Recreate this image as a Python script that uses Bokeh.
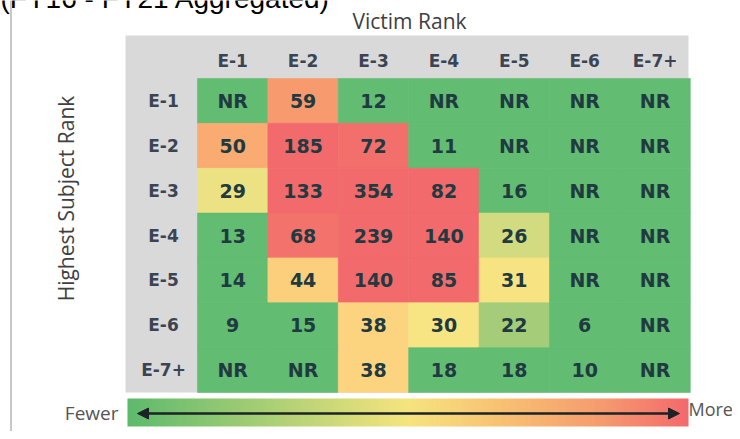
import numpy as np
from bokeh.plotting import figure
from bokeh.models import ColumnDataSource, Range1d, LinearColorMapper, Arrow, NormalHead, Span
from bokeh.core.properties import value
from bokeh.embed import file_html
from bokeh.resources import INLINE

# ---------------- data ----------------
victim_ranks = ["E-1", "E-2", "E-3", "E-4", "E-5", "E-6", "E-7+"]
subject_ranks = ["E-1", "E-2", "E-3", "E-4", "E-5", "E-6", "E-7+"]
NR = None
counts_e1 = [NR, 59, 12, NR, NR, NR, NR]
counts_e2 = [50, 185, 72, 11, NR, NR, NR]
counts_e3 = [29, 133, 354, 82, 16, NR, NR]
counts_e4 = [13, 68, 239, 140, 26, NR, NR]
counts_e5 = [14, 44, 140, 85, 31, NR, NR]
counts_e6 = [9, 15, 38, 30, 22, 6, NR]
counts_e7 = [NR, NR, 38, 18, 18, 10, NR]
count_rows = [counts_e1, counts_e2, counts_e3, counts_e4, counts_e5, counts_e6, counts_e7]
title_text = "(FY16 - FY21 Aggregated)"
x_title = "Victim Rank"
y_title = "Highest Subject Rank"
legend_low = "Fewer"
legend_high = "More"

# ---------------- layout (pixel geometry) ----------------
W, H = 732, 431
GRID_X0, GRID_Y0 = 197, 78   # top-left of the cell grid (px)
CELL_W, CELL_H = 70.4, 44.86

def dx(px):
    return (px - GRID_X0) / CELL_W - 0.5

def dy(py):
    return (py - GRID_Y0) / CELL_H - 0.5

# ---------------- colour scale ----------------
anchor_vals = [0, 18, 22, 26, 30, 38, 44, 50, 59, 68, 80]
anchor_cols = ["#62BC72", "#62BC72", "#A5CC79", "#D3DB80", "#F7E584", "#FCD47F",
               "#FBCF7C", "#F9AB71", "#F79B6E", "#F3726C", "#F26A6B"]

def hex2rgb(h):
    h = h.lstrip("#")
    return [int(h[k:k + 2], 16) for k in (0, 2, 4)]

def ramp(vals, cols, lo, hi, n=256):
    rgb = np.array([hex2rgb(c) for c in cols], dtype=float)
    s = np.linspace(lo, hi, n)
    out = []
    for t in s:
        r, g, b = (np.interp(t, vals, rgb[:, k]) for k in range(3))
        out.append("#%02x%02x%02x" % (int(round(r)), int(round(g)), int(round(b))))
    return out

cell_palette = ramp(anchor_vals, anchor_cols, 0, 80)
mapper = LinearColorMapper(palette=cell_palette, low=0, high=80,
                           high_color="#F26A6B", nan_color="#62BC72")

legend_stops = [0.0, 0.5, 0.68, 0.85, 1.0]
legend_cols = ["#5DBA6C", "#F6E47D", "#F8BE72", "#F59A6E", "#F4696C"]
legend_palette = ramp(legend_stops, legend_cols, 0, 1)

# ---------------- source ----------------
xs, ys, vals, labels = [], [], [], []
for j, row in enumerate(count_rows):
    for i, v in enumerate(row):
        xs.append(i)
        ys.append(j)
        vals.append(np.nan if v is None else float(v))
        labels.append("NR" if v is None else str(v))
src = ColumnDataSource(dict(x=xs, y=ys, v=vals, label=labels))

# ---------------- figure ----------------
p = figure(width=W, height=H,
           x_range=Range1d(dx(0), dx(W)),
           y_range=Range1d(dy(H), dy(0)),
           x_axis_location=None, y_axis_location=None,
           output_backend="svg", toolbar_location=None, tools="",
           min_border=0)
p.grid.visible = False
p.outline_line_color = None
p.background_fill_color = "white"
p.border_fill_color = "white"

# left screenshot border line
p.add_layout(Span(location=dx(10.5), dimension="height", line_color="#c8c8c8", line_width=2))

# grey header band
p.quad(left=dx(125), right=dx(688), top=dy(35), bottom=dy(392),
       fill_color="#d9d9d9", line_color=None)

# cells
p.rect(x="x", y="y", width=1, height=1, source=src,
       fill_color={"field": "v", "transform": mapper},
       line_color={"field": "v", "transform": mapper}, line_width=0.6)
p.text(x="x", y="y", text="label", source=src,
       text_align="center", text_baseline="middle",
       text_font=value("DejaVu Sans"), text_font_style="bold",
       text_font_size="19px", text_color="#1f3a40")

# header labels
hdr = ColumnDataSource(dict(x=list(range(len(victim_ranks))),
                            y=[dy(60)] * len(victim_ranks), t=victim_ranks))
p.text(x="x", y="y", text="t", source=hdr, text_align="center", text_baseline="middle",
       text_font=value("DejaVu Sans"), text_font_style="bold",
       text_font_size="17px", text_color="#3b4453")
rlab = ColumnDataSource(dict(x=[dx(163)] * len(subject_ranks),
                             y=list(range(len(subject_ranks))), t=subject_ranks))
p.text(x="x", y="y", text="t", source=rlab, text_align="center", text_baseline="middle",
       text_font=value("DejaVu Sans"), text_font_style="bold",
       text_font_size="17px", text_color="#3b4453")

# axis titles
p.text(x=[dx(409)], y=[dy(20)], text=[x_title], text_align="center", text_baseline="middle",
       text_font=value("Open Sans"), text_font_size="21px", text_color="#404040")
p.text(x=[dx(65)], y=[dy(198)], text=[y_title], angle=np.pi / 2,
       text_align="center", text_baseline="middle",
       text_font=value("Open Sans"), text_font_size="21px", text_color="#404040")

# title (cut by the top edge, as in the source image)
p.text(x=[dx(0)], y=[dy(13)], text=[title_text], text_align="left", text_baseline="bottom",
       text_font=value("Liberation Sans"), text_font_size="28px", text_color="#000000")

# gradient legend
p.image(image=[np.linspace(0, 1, 256)[None, :]], x=dx(127), y=dy(398),
        dw=dx(688) - dx(127), dh=dy(426) - dy(398), palette=legend_palette)
p.add_layout(Arrow(start=NormalHead(size=11, fill_color="#1b2326", line_color="#1b2326"),
                   end=NormalHead(size=11, fill_color="#1b2326", line_color="#1b2326"),
                   x_start=dx(137), y_start=dy(413), x_end=dx(679), y_end=dy(413),
                   line_color="#1b2326", line_width=2.5))
p.text(x=[dx(118)], y=[dy(412)], text=[legend_low], text_align="right", text_baseline="middle",
       text_font=value("Open Sans"), text_font_size="19px", text_color="#555555")
p.text(x=[dx(688)], y=[dy(408)], text=[legend_high], text_align="left", text_baseline="middle",
       text_font=value("Open Sans"), text_font_size="18px", text_color="#555555")

open("out.html", "w").write(file_html(p, INLINE))
